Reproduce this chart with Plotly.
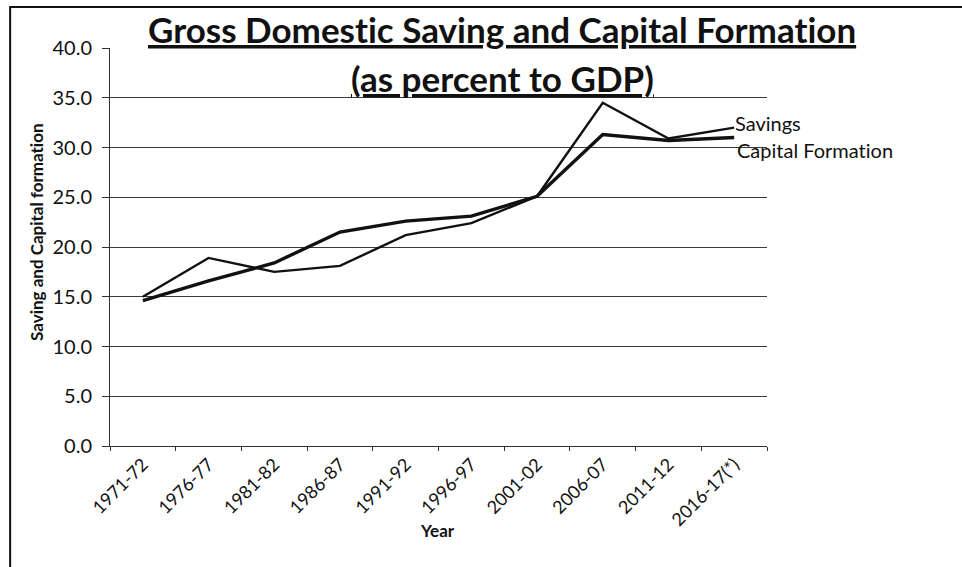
import plotly.graph_objects as go

# Gross domestic saving and capital formation, % of GDP
years = ["1971-72", "1976-77", "1981-82", "1986-87", "1991-92",
         "1996-97", "2001-02", "2006-07", "2011-12", "2016-17(*)"]
savings = [15.0, 18.9, 17.5, 18.1, 21.2, 22.4, 25.1, 34.5, 30.9, 32.0]
capital_formation = [14.6, 16.6, 18.4, 21.5, 22.6, 23.1, 25.1, 31.3, 30.7, 31.0]
y_ticks = [0, 5, 10, 15, 20, 25, 30, 35, 40]

FONT = "Lato"
INK = "#111111"


def plain(s):
    # keep letter pairs such as "ti" as separate glyphs
    return "<span style='font-variant-ligatures:none'>" + s + "</span>"


fig = go.Figure()
fig.add_trace(go.Scatter(x=years, y=savings, mode="lines", name="Savings",
                         line=dict(color=INK, width=2.4)))
fig.add_trace(go.Scatter(x=years, y=capital_formation, mode="lines",
                         name="Capital Formation",
                         line=dict(color=INK, width=3.4)))

# series names written at the end of each line
fig.add_annotation(x=years[-1], y=savings[-1], text=plain("Savings"),
                   showarrow=False, xanchor="left", yanchor="middle",
                   xshift=-1, yshift=5,
                   font=dict(family=FONT, size=20, color=INK))
fig.add_annotation(x=years[-1], y=capital_formation[-1],
                   text=plain("Capital Formation"),
                   showarrow=False, xanchor="left", yanchor="middle",
                   xshift=1, yshift=-12,
                   font=dict(family=FONT, size=20, color=INK))

# two-line underlined title
fig.add_annotation(xref="paper", yref="paper", x=0.597, y=1.048,
                   text="<b><u>" + plain("Gross Domestic Saving and Capital Formation") + "</u></b>",
                   showarrow=False, xanchor="center", yanchor="middle",
                   font=dict(family=FONT, size=35, color=INK))
fig.add_annotation(xref="paper", yref="paper", x=0.597, y=0.925,
                   text="<b><u>" + plain("(as percent to GDP)") + "</u></b>",
                   showarrow=False, xanchor="center", yanchor="middle",
                   font=dict(family=FONT, size=35, color=INK))

# axis titles
fig.add_annotation(xref="paper", yref="paper", x=-0.111, y=0.538,
                   text="<b>" + plain("Saving and Capital formation") + "</b>",
                   textangle=-90,
                   showarrow=False, xanchor="center", yanchor="middle",
                   font=dict(family=FONT, size=17, color=INK))
fig.add_annotation(xref="paper", yref="paper", x=0.498, y=-0.213,
                   text="<b>Year</b>", showarrow=False,
                   xanchor="center", yanchor="middle",
                   font=dict(family=FONT, size=17, color=INK))

# chart-area border
fig.add_shape(type="rect", xref="paper", yref="paper",
              x0=-0.152, x1=1.6, y0=-0.6, y1=1.103,
              line=dict(color=INK, width=2), layer="above")

fig.update_xaxes(type="category", range=[-0.5, len(years) - 0.5],
                 tickson="boundaries", ticks="outside", ticklen=4,
                 tickcolor="#333333", showline=True, linecolor="#333333",
                 linewidth=1, showgrid=False, tickangle=-45,
                 tickfont=dict(family=FONT, size=18, color=INK))
fig.update_yaxes(range=[0, 40], tickvals=y_ticks, tickformat=".1f",
                 ticks="outside", ticklen=7, tickcolor="#333333",
                 ticklabelstandoff=6,
                 showline=True, linecolor="#333333", linewidth=1,
                 showgrid=True, gridcolor="#3a3a3a", gridwidth=1,
                 zeroline=False,
                 tickfont=dict(family=FONT, size=20, color=INK))

fig.update_layout(width=962, height=567, showlegend=False,
                  margin=dict(l=110, r=195, t=48, b=121),
                  paper_bgcolor="white", plot_bgcolor="white")

fig.write_html("out.html")
